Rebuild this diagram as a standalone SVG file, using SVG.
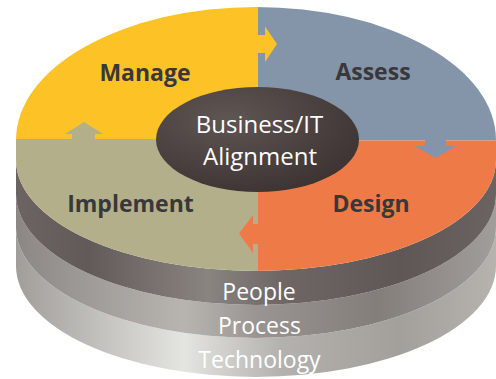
<svg xmlns="http://www.w3.org/2000/svg" width="496" height="379" viewBox="0 0 496 379">
<style>
.lbl{font-family:"Open Sans","Liberation Sans",sans-serif;font-weight:700;font-size:23px;fill:#38383a;text-anchor:middle}
.wt{font-family:"Open Sans","Liberation Sans",sans-serif;font-size:23px;fill:#ffffff;text-anchor:middle}
.ct{font-family:"Open Sans","Liberation Sans",sans-serif;font-size:24px;fill:#ffffff;text-anchor:middle}
</style>
<defs>
<linearGradient id="gPeople" gradientUnits="userSpaceOnUse" x1="16" y1="0" x2="496" y2="0">
<stop offset="0" stop-color="#6b6462"/><stop offset="0.15" stop-color="#625a58"/><stop offset="0.4" stop-color="#8a8481"/><stop offset="0.55" stop-color="#6e6765"/><stop offset="0.8" stop-color="#5f5755"/><stop offset="1" stop-color="#6a6361"/>
</linearGradient>
<linearGradient id="gProcess" gradientUnits="userSpaceOnUse" x1="16" y1="0" x2="496" y2="0">
<stop offset="0" stop-color="#8c8784"/><stop offset="0.35" stop-color="#b8b5b1"/><stop offset="0.5" stop-color="#9a9592"/><stop offset="0.75" stop-color="#847e7b"/><stop offset="1" stop-color="#a19d9a"/>
</linearGradient>
<linearGradient id="gTech" gradientUnits="userSpaceOnUse" x1="16" y1="0" x2="496" y2="0">
<stop offset="0" stop-color="#a19e9a"/><stop offset="0.35" stop-color="#e4e4e0"/><stop offset="0.55" stop-color="#b4b2ae"/><stop offset="0.8" stop-color="#a39f9b"/><stop offset="1" stop-color="#b6b3af"/>
</linearGradient>
<radialGradient id="gCenter" cx="0.35" cy="0.3" r="0.8">
<stop offset="0" stop-color="#5f5553"/><stop offset="1" stop-color="#3b3130"/>
</radialGradient>
<clipPath id="topClip">
<path d="M16,160 L16,140 A240,133 0 0 1 496,140 L496,160 A240,111 0 0 1 16,160 Z"/>
</clipPath>
</defs>

<g id="layer-technology">
<path d="M16,227 A240,111 0 0 0 496,227 L496,266 A240,111 0 0 1 16,266 Z" fill="url(#gTech)"/>
<text class="wt" x="259.5" y="368">Technology</text>
</g>
<g id="layer-process">
<path d="M16,194 A240,111 0 0 0 496,194 L496,227 A240,111 0 0 1 16,227 Z" fill="url(#gProcess)"/>
<text class="wt" x="259.5" y="334">Process</text>
</g>
<g id="layer-people">
<path d="M16,160 A240,111 0 0 0 496,160 L496,194 A240,111 0 0 1 16,194 Z" fill="url(#gPeople)"/>
<text class="wt" x="259" y="300">People</text>
</g>

<g clip-path="url(#topClip)">
<g id="manage"><rect x="0" y="0" width="258" height="139" fill="#fdc326"/></g>
<g id="assess"><rect x="258" y="0" width="240" height="140.5" fill="#8494a9"/></g>
<g id="design"><rect x="258" y="140.5" width="240" height="140" fill="#ee7b47"/></g>
<g id="implement"><rect x="0" y="139" width="258" height="140" fill="#b3af8a"/></g>
</g>

<g id="connectors">
<polygon points="258,35 265,35 265,26.5 277,44 265,62 265,53 258,53" fill="#fdc326"/>
<polygon points="425,140 425,146 415,146 435.5,158 456,146 446,146 446,140" fill="#8494a9"/>
<polygon points="258,224 253,224 253,215 239,233.5 253,253 253,244 258,244" fill="#ee7b47"/>
<polygon points="72,139.5 72,134 65,134 84,122 103,134 95,134 95,139.5" fill="#b3af8a"/>
</g>

<g id="labels">
<text class="lbl" x="145" y="81">Manage</text>
<text class="lbl" x="373" y="80">Assess</text>
<text class="lbl" x="130.5" y="212">Implement</text>
<text class="lbl" x="371" y="212">Design</text>
</g>

<g id="alignment">
<ellipse cx="257.5" cy="139.5" rx="101.5" ry="52.5" fill="url(#gCenter)"/>
<text class="ct" x="259.5" y="133">Business/IT</text>
<text class="ct" x="260" y="165">Alignment</text>
</g>
</svg>
